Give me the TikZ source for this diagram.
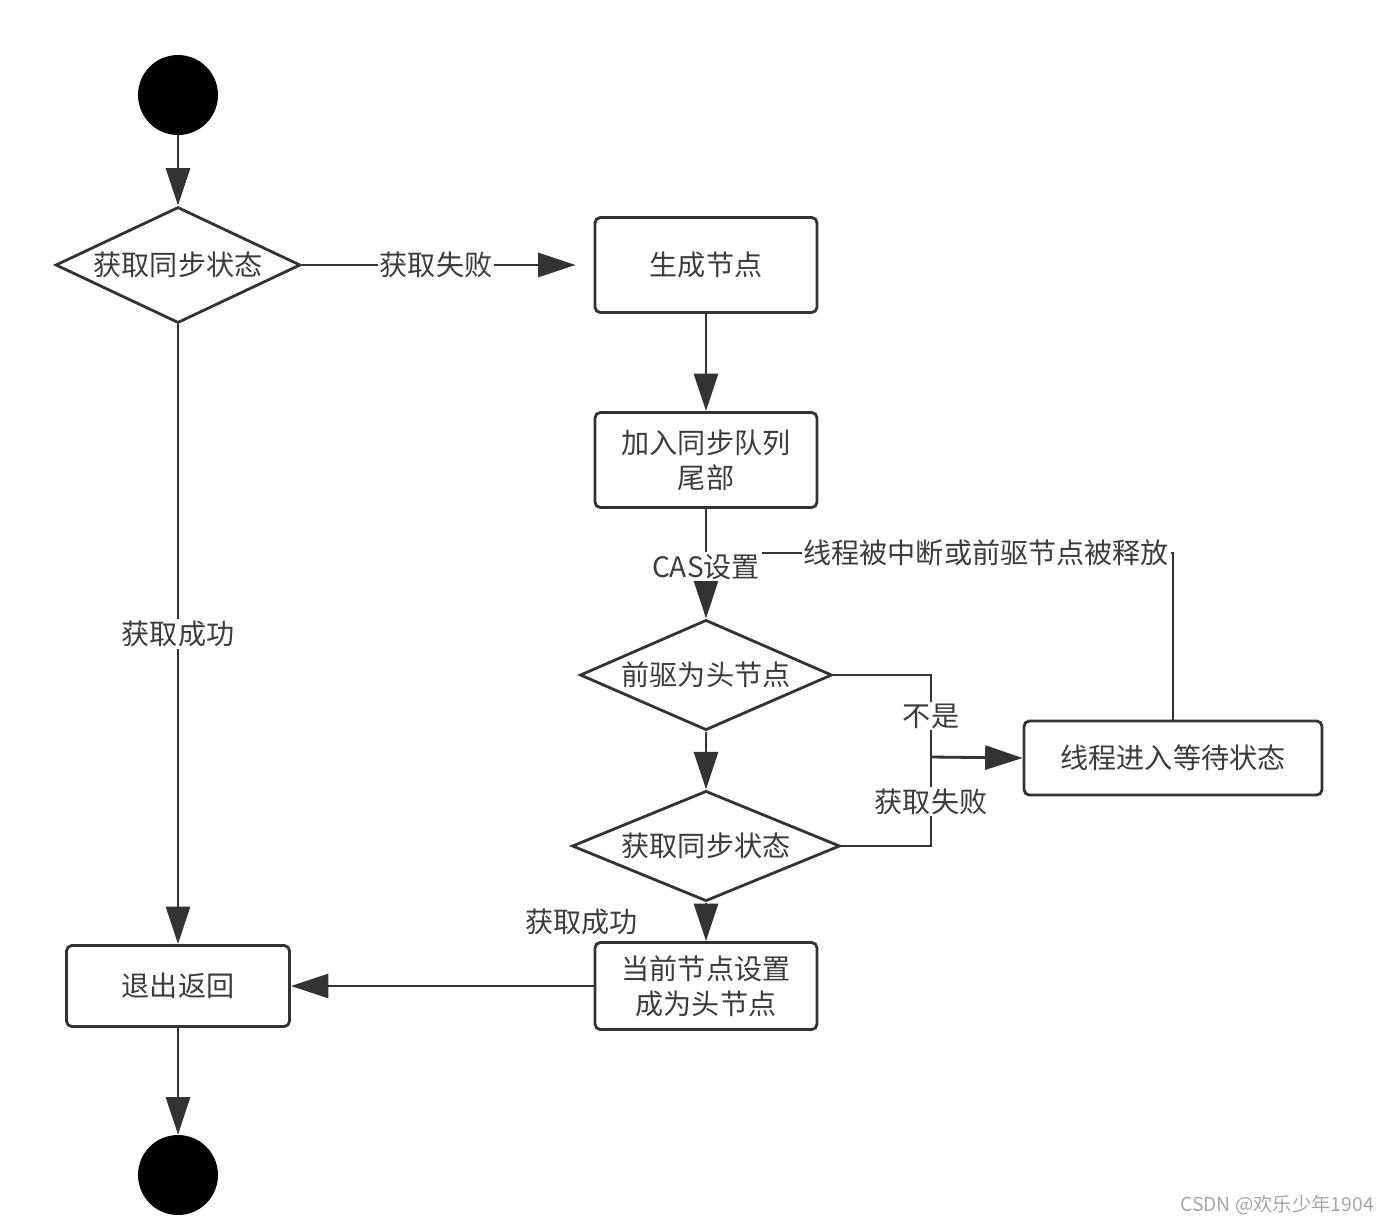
\documentclass[tikz,border=0pt]{standalone}
\usepackage{fontspec}
\setmainfont{Noto Sans CJK SC}
\usetikzlibrary{shapes.geometric,arrows.meta}

\definecolor{linegray}{HTML}{333333}
\definecolor{txtgray}{HTML}{3C3C3C}

\tikzset{
  line/.style = {draw = linegray, line width = 1.6pt},
  arr/.style = {line, -{Triangle[length = 0.75cm, width = 0.48cm]}},
  act/.style = {draw = linegray, line width = 1.6pt, rounded corners = 3pt, fill = white,
    minimum width = 4.44cm, minimum height = 1.9cm, align = center, text = txtgray,
    font = \fontsize{16pt}{20pt}\selectfont},
  decide/.style = {diamond, draw = linegray, line width = 1.6pt, aspect = 2, inner sep = 0pt,
    fill = white, text = txtgray, font = \fontsize{16pt}{20pt}\selectfont},
  lbl/.style = {fill = white, inner sep = 1pt, text = txtgray, font = \fontsize{16pt}{20pt}\selectfont},
  dot/.style = {circle, fill = black, minimum size = 1.6cm, inner sep = 0pt}
}

\begin{document}
\begin{tikzpicture}[x = 0.02cm, y = -0.02cm]

  \useasboundingbox (0, 0) rectangle (1392, 1225);

  \node[dot] (start) at (178, 95) {};
  \node[decide, minimum width = 4.9cm, minimum height = 2.32cm] (getA) at (178, 265) {获取同步状态};
  \node[act] (gen) at (706, 265) {生成节点};
  \node[act] (join) at (706, 460) {加入同步队列\\尾部};
  \node[decide, minimum width = 5.04cm, minimum height = 2.1cm] (prev) at (706, 675) {前驱为头节点};
  \node[decide, minimum width = 5.36cm, minimum height = 1.96cm] (getB) at (706, 846) {获取同步状态};
  \node[act, minimum width = 5.96cm, minimum height = 1.48cm] (wait) at (1173, 758) {线程进入等待状态};
  \node[act, minimum height = 1.74cm] (cur) at (706, 986) {当前节点设置\\成为头节点};
  \node[act, minimum width = 4.46cm, minimum height = 1.62cm] (exit) at (178, 986) {退出返回};
  \node[dot] (stop) at (178, 1175) {};

  \coordinate (cas) at (706, 553);
  \coordinate (merge) at (931, 757);

  \draw[arr] (start) -- (getA);
  \draw[arr, shorten >= 0.36cm] (getA) -- node[lbl, pos = 0.46] {获取失败} (gen);
  \draw[arr] (gen) -- (join);

  % back edge from the waiting state
  \draw[line] (wait.north) |- node[lbl, pos = 0.7] {线程被中断或前驱节点被释放} (cas);
  \draw[arr] (join) -- node[lbl, pos = 0.53] {CAS设置} (prev);

  \draw[arr] (prev) -- (getB);
  \draw[line] (prev.east) -| node[lbl, pos = 0.75] {不是} (merge);
  \draw[line] (getB.east) -| node[lbl, pos = 0.75] {获取失败} (merge);
  \draw[arr] (merge) -- (wait.west);

  \draw[arr] (getB) -- node[lbl, midway, left = 1.3cm] {获取成功} (cur);
  \draw[arr] (cur) -- (exit);
  \draw[arr] (getA) -- node[lbl, midway] {获取成功} (exit);
  \draw[arr] (exit) -- (stop);

  \node[text = gray!70, font = \fontsize{11pt}{13pt}\selectfont] (mark) at (1277, 1205) {CSDN @欢乐少年1904};

\end{tikzpicture}
\end{document}
